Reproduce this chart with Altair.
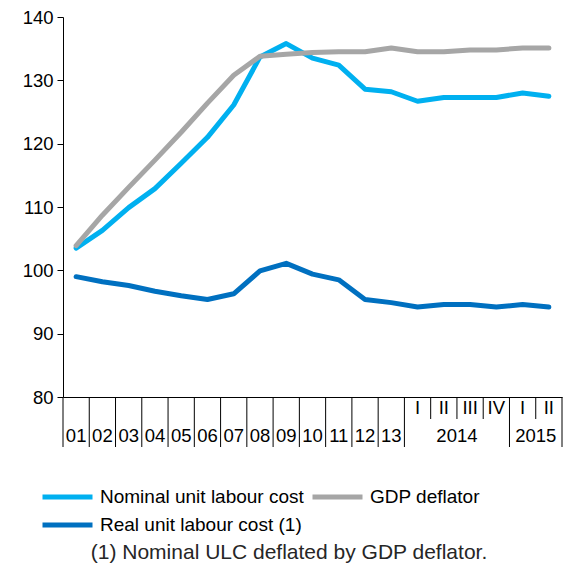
import altair as alt
import pandas as pd

# ---- data ----
tick_labels = ["01", "02", "03", "04", "05", "06", "07", "08", "09", "10", "11", "12", "13",
               "I", "II", "III", "IV", "I", "II"]
year_labels = ["2014", "2015"]
year_pos = [14.5, 17.5]

nominal = [103.5, 106.3, 109.9, 112.9, 116.9, 121.0, 126.1, 133.7, 135.8, 133.5, 132.4,
           128.6, 128.2, 126.7, 127.3, 127.3, 127.3, 128.0, 127.5]
gdp = [103.9, 108.7, 113.1, 117.4, 121.8, 126.4, 130.8, 133.8, 134.1, 134.4, 134.5,
       134.5, 135.1, 134.5, 134.5, 134.8, 134.8, 135.1, 135.1]
real = [99.0, 98.2, 97.6, 96.7, 96.0, 95.4, 96.3, 99.9, 101.1, 99.4, 98.5,
        95.4, 94.9, 94.2, 94.6, 94.6, 94.2, 94.6, 94.2]

series_names = ["Nominal unit labour cost", "GDP deflator", "Real unit labour cost (1)"]
series_colors = ["#00B0F0", "#A6A6A6", "#0070C0"]
series_widths = [5, 5, 3.5]

full_sep = [-0.5, 0.5, 1.5, 2.5, 3.5, 4.5, 5.5, 6.5, 7.5, 8.5, 9.5, 10.5, 11.5, 12.5, 16.5, 18.5]
short_sep = [13.5, 14.5, 15.5, 17.5]
footnote = "(1) Nominal ULC deflated by GDP deflator."

FONT = "Liberation Sans, Arial, sans-serif"

# ---- tables ----
rows = []
for name, vals in zip(series_names, [nominal, gdp, real]):
    for i, v in enumerate(vals):
        rows.append({"idx": i, "series": name, "value": v})
df = pd.DataFrame(rows)

n = len(tick_labels)
df_low = pd.DataFrame({"idx": list(range(13)), "label": tick_labels[:13]})
df_low = pd.concat([df_low, pd.DataFrame({"idx": year_pos, "label": year_labels})], ignore_index=True)
df_q = pd.DataFrame({"idx": list(range(13, n)), "label": tick_labels[13:]})
df_full = pd.DataFrame({"pos": full_sep})
df_short = pd.DataFrame({"pos": short_sep})
df_note = pd.DataFrame({"t": [footnote]})

xscale = alt.Scale(domain=[-0.5, 18.5], nice=False, zero=False)
yscale = alt.Scale(domain=[80, 140], nice=False, zero=False)

legend = alt.Legend(
    title=None, orient="none", legendX=-23, legendY=469, columns=2, direction="horizontal",
    columnPadding=6, rowPadding=6, clipHeight=22, symbolType="stroke", symbolSize=2500,
    symbolStrokeWidth=5, labelFont=FONT, labelFontSize=19, labelColor="black",
    labelOffset=5, labelLimit=0, padding=0,
)

lines = alt.Chart(df).mark_line(strokeCap="round", strokeJoin="round").encode(
    x=alt.X("idx:Q", scale=xscale,
            axis=alt.Axis(labels=False, ticks=False, grid=False, title=None,
                          domainColor="black", domainWidth=1)),
    y=alt.Y("value:Q", scale=yscale,
            axis=alt.Axis(values=[80, 90, 100, 110, 120, 130, 140], grid=False, title=None,
                          domainColor="black", domainWidth=1, tickColor="black",
                          tickSize=6, labelFont=FONT, labelFontSize=18.5,
                          labelColor="black", labelPadding=4)),
    color=alt.Color("series:N", scale=alt.Scale(domain=series_names, range=series_colors),
                    legend=legend),
    strokeWidth=alt.StrokeWidth("series:N",
                                scale=alt.Scale(domain=series_names, range=series_widths),
                                legend=legend),
    detail="series:N",
)

rules_full = alt.Chart(df_full).mark_rule(color="black", strokeWidth=1).encode(
    x=alt.X("pos:Q", scale=xscale), y=alt.value(380), y2=alt.value(430))
rules_short = alt.Chart(df_short).mark_rule(color="black", strokeWidth=1).encode(
    x=alt.X("pos:Q", scale=xscale), y=alt.value(380), y2=alt.value(402))

labels_low = alt.Chart(df_low).mark_text(
    font=FONT, fontSize=18.5, color="black", baseline="alphabetic", align="center").encode(
    x=alt.X("idx:Q", scale=xscale), y=alt.value(425), text="label:N")
labels_q = alt.Chart(df_q).mark_text(
    font=FONT, fontSize=18.5, color="black", baseline="alphabetic", align="center").encode(
    x=alt.X("idx:Q", scale=xscale), y=alt.value(397), text="label:N")

note = alt.Chart(df_note).mark_text(
    font=FONT, fontSize=21, color="#262626", baseline="alphabetic", align="center").encode(
    x=alt.value(226), y=alt.value(542), text="t:N")

chart = alt.layer(lines, rules_full, rules_short, labels_low, labels_q, note).properties(
    width=499, height=380,
    padding={"left": 55, "top": 9, "right": 1, "bottom": 167},
    autosize=alt.AutoSizeParams(type="none"),
).configure_view(stroke=None)

chart.save("out.html", embed_options={"renderer": "svg", "actions": False})
